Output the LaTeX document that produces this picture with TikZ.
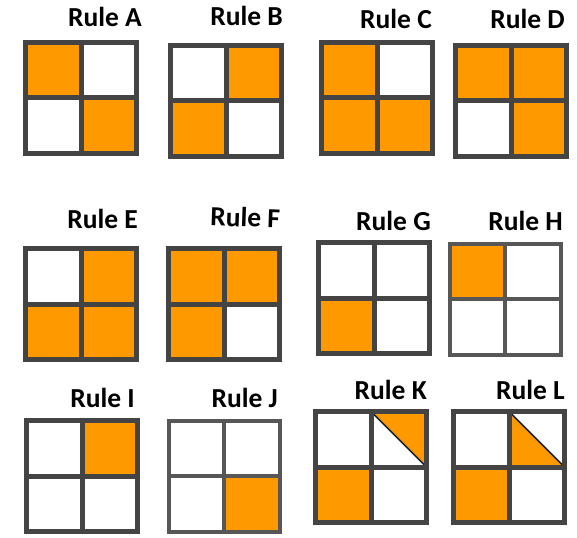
\documentclass[tikz,border=0pt]{standalone}
\usepackage{fontspec}
\setmainfont{Carlito}
\usetikzlibrary{positioning}

\definecolor{ruleorange}{HTML}{FF9900}
\definecolor{rulegray}{HTML}{444444}
\definecolor{diagline}{HTML}{1C2535}

\begin{document}
\begin{tikzpicture}[
  x=1pt, y=-1pt,
  cell/.style={
    draw=rulegray,
    fill=white,
    line width=5pt,
    minimum width=55.5pt,
    minimum height=55.5pt,
    inner sep=0pt,
    outer sep=0pt,
    anchor=north west
  },
  on/.style={fill=ruleorange},
  thin cell/.style={line width=4pt, draw=rulegray!90},
  rulelabel/.style={
    font=\bfseries\fontsize{27.5}{30}\selectfont,
    anchor=base east,
    inner sep=0pt
  },
  upper tri/.style={path picture={
    \fill[ruleorange] (path picture bounding box.north west) -- (path picture bounding box.north east) -- (path picture bounding box.south east) -- cycle;
    \draw[diagline, line width=1.5pt] (path picture bounding box.north west) -- (path picture bounding box.south east);
  }},
  lower tri/.style={path picture={
    \fill[ruleorange] (path picture bounding box.north west) -- (path picture bounding box.south west) -- (path picture bounding box.south east) -- cycle;
    \draw[diagline, line width=1.5pt] (path picture bounding box.north west) -- (path picture bounding box.south east);
  }}
]
\useasboundingbox (0,0) rectangle (577,537);

% Rule A
\node[cell, on] (A1) at (25.5,42.5) {};
\node[cell, right=0pt of A1] (A2) {};
\node[cell, below=0pt of A1] (A3) {};
\node[cell, on, right=0pt of A3] (A4) {};
\node[rulelabel] (lblA) at (142,27) {Rule A};

% Rule B
\node[cell] (B1) at (170.5,45.5) {};
\node[cell, on, right=0pt of B1] (B2) {};
\node[cell, on, below=0pt of B1] (B3) {};
\node[cell, right=0pt of B3] (B4) {};
\node[rulelabel] (lblB) at (283,26) {Rule B};

% Rule C
\node[cell, on] (C1) at (321.5,42.5) {};
\node[cell, right=0pt of C1] (C2) {};
\node[cell, on, below=0pt of C1] (C3) {};
\node[cell, on, right=0pt of C3] (C4) {};
\node[rulelabel] (lblC) at (432,29) {Rule C};

% Rule D
\node[cell, on] (D1) at (455.5,45.5) {};
\node[cell, on, right=0pt of D1] (D2) {};
\node[cell, below=0pt of D1] (D3) {};
\node[cell, on, right=0pt of D3] (D4) {};
\node[rulelabel] (lblD) at (565,29) {Rule D};

% Rule E
\node[cell] (E1) at (25.5,248.5) {};
\node[cell, on, right=0pt of E1] (E2) {};
\node[cell, on, below=0pt of E1] (E3) {};
\node[cell, on, right=0pt of E3] (E4) {};
\node[rulelabel] (lblE) at (138,228) {Rule E};

% Rule F
\node[cell, on] (F1) at (168.5,248.5) {};
\node[cell, on, right=0pt of F1] (F2) {};
\node[cell, on, below=0pt of F1] (F3) {};
\node[cell, right=0pt of F3] (F4) {};
\node[rulelabel, rotate=-2] (lblF) at (280,228) {Rule F};

% Rule G
\node[cell] (G1) at (318.5,242.5) {};
\node[cell, right=0pt of G1] (G2) {};
\node[cell, on, below=0pt of G1] (G3) {};
\node[cell, right=0pt of G3] (G4) {};
\node[rulelabel] (lblG) at (431,230) {Rule G};

% Rule H
\node[cell, thin cell, on] (H1) at (449.5,243.5) {};
\node[cell, thin cell, right=0pt of H1] (H2) {};
\node[cell, thin cell, below=0pt of H1] (H3) {};
\node[cell, thin cell, right=0pt of H3] (H4) {};
\node[rulelabel] (lblH) at (563,230) {Rule H};

% Rule I
\node[cell] (I1) at (26.5,420.5) {};
\node[cell, on, right=0pt of I1] (I2) {};
\node[cell, below=0pt of I1] (I3) {};
\node[cell, right=0pt of I3] (I4) {};
\node[rulelabel] (lblI) at (135,407) {Rule I};

% Rule J
\node[cell, thin cell] (J1) at (168.5,420.5) {};
\node[cell, thin cell, right=0pt of J1] (J2) {};
\node[cell, thin cell, below=0pt of J1] (J3) {};
\node[cell, thin cell, on, right=0pt of J3] (J4) {};
\node[rulelabel] (lblJ) at (278,407) {Rule J};

% Rule K
\node[cell] (K1) at (315.5,411.5) {};
\node[cell, upper tri, right=0pt of K1] (K2) {};
\node[cell, on, below=0pt of K1] (K3) {};
\node[cell, right=0pt of K3] (K4) {};
\node[rulelabel] (lblK) at (427,399) {Rule K};

% Rule L
\node[cell] (L1) at (453.5,411.5) {};
\node[cell, lower tri, right=0pt of L1] (L2) {};
\node[cell, on, below=0pt of L1] (L3) {};
\node[cell, right=0pt of L3] (L4) {};
\node[rulelabel] (lblL) at (565,399) {Rule L};

\end{tikzpicture}
\end{document}
